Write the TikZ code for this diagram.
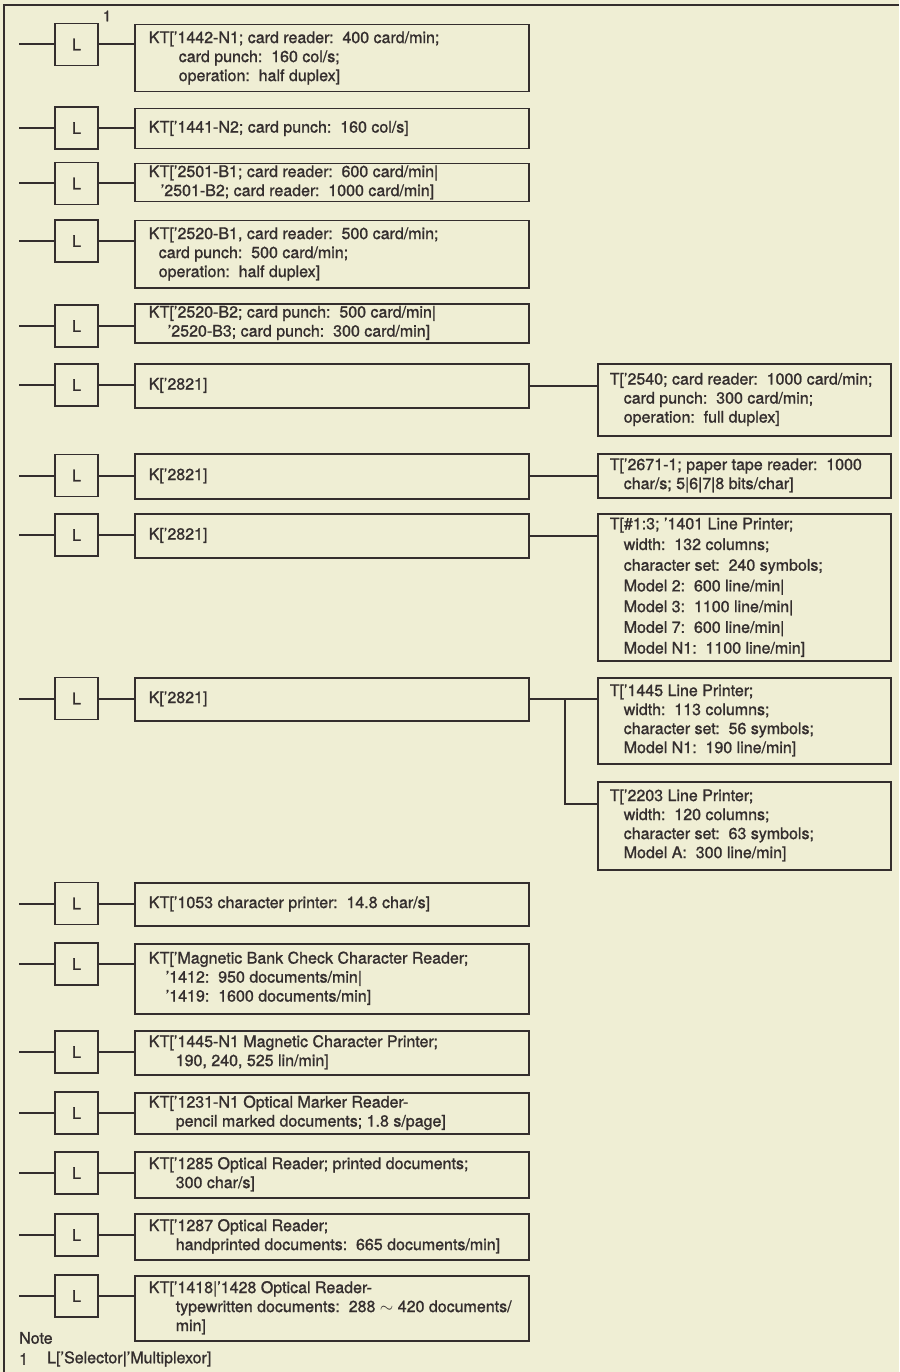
\documentclass[tikz,border=0pt]{standalone}
\usepackage{fontspec}
\setmainfont{TeX Gyre Heros}[FakeBold=1.2]
\usetikzlibrary{calc}
\definecolor{paper}{RGB}{239,238,212}
\definecolor{ink}{RGB}{52,46,46}
\newcommand\bx[2]{\makebox[#1][l]{\begin{tabular}{@{}l@{}}#2\end{tabular}}}
\newcommand\kt[1]{\bx{366pt}{#1}}
\newcommand\tx[1]{\bx{269pt}{#1}}
\newcommand\ind[1]{\hspace*{#1pt}}
\begin{document}
\begin{tikzpicture}[x=1pt,y=-1pt,
  every node/.style={text=ink, font=\fontsize{16}{19}\selectfont},
  lbox/.style={draw=ink, line width=1.5pt, minimum width=43pt, minimum height=42pt, inner sep=0pt},
  kbox/.style={draw=ink, line width=1.5pt, anchor=north west, inner xsep=14pt, inner ysep=0pt, minimum height=#1},
  tbox/.style={draw=ink, line width=1.5pt, anchor=north west, inner xsep=12pt, inner ysep=0pt, minimum height=#1},
  plain/.style={inner sep=0pt, anchor=west},
  conn/.style={draw=ink, line width=2pt}]
\fill[paper] (0,0) rectangle (899,1372);
\useasboundingbox (0,0) rectangle (899,1372);
\draw[line width=1.8pt, ink] (899,5) -- (4,5) -- (4,1372);

% L boxes
\node[lbox] (L1) at (76.5,44.5) {L};
\node[lbox] (L2) at (76.5,128) {L};
\node[lbox] (L3) at (76.5,183.5) {L};
\node[lbox] (L4) at (76.5,241) {L};
\node[lbox] (L5) at (76.5,326) {L};
\node[lbox] (L6) at (76.5,385) {L};
\node[lbox] (L7) at (76.5,475.5) {L};
\node[lbox] (L8) at (76.5,535) {L};
\node[lbox] (L9) at (76.5,698.5) {L};
\node[lbox] (L10) at (76.5,903.5) {L};
\node[lbox] (L11) at (76.5,964) {L};
\node[lbox] (L12) at (76.5,1052) {L};
\node[lbox] (L13) at (76.5,1113) {L};
\node[lbox] (L14) at (76.5,1173) {L};
\node[lbox] (L15) at (76.5,1235) {L};
\node[lbox] (L16) at (76.5,1296) {L};

\node[inner sep=0pt, font=\fontsize{15}{17}\selectfont] (sup1) at (107,16) {1};

% KT / K boxes
\node[kbox=67pt] (B1) at (134,24) {\kt{KT['1442-N1; card reader:\ \ 400 card/min;\\\ind{30}card punch:\ \ 160 col/s;\\\ind{30}operation:\ \ half duplex]}};
\node[kbox=40pt] (B2) at (134,108) {\kt{KT['1441-N2; card punch:\ \ 160 col/s]}};
\node[kbox=38pt] (B3) at (134,163) {\kt{KT['2501-B1; card reader:\ \ 600 card/min|\\\ind{12}'2501-B2; card reader:\ \ 1000 card/min]}};
\node[kbox=67pt] (B4) at (134,220) {\kt{KT['2520-B1, card reader:\ \ 500 card/min;\\\ind{10}card punch:\ \ 500 card/min;\\\ind{10}operation:\ \ half duplex]}};
\node[kbox=39pt] (B5) at (134,303) {\kt{KT['2520-B2; card punch:\ \ 500 card/min|\\\ind{19}'2520-B3; card punch:\ \ 300 card/min]}};
\node[kbox=44pt] (B6) at (134,363) {\kt{K['2821]}};
\node[kbox=45pt] (B7) at (134,453) {\kt{K['2821]}};
\node[kbox=44pt] (B8) at (134,513) {\kt{K['2821]}};
\node[kbox=43pt] (B9) at (134,677) {\kt{K['2821]}};
\node[kbox=43pt] (B10) at (134,882) {\kt{KT['1053 character printer:\ \ 14.8 char/s]}};
\node[kbox=70pt] (B11) at (134,943) {\kt{KT['Magnetic Bank Check Character Reader;\\\ind{17}'1412:\ \ 950 documents/min|\\\ind{17}'1419:\ \ 1600 documents/min]}};
\node[kbox=44pt] (B12) at (134,1030) {\kt{KT['1445-N1 Magnetic Character Printer;\\\ind{27}190, 240, 525 lin/min]}};
\node[kbox=41pt] (B13) at (134,1092) {\kt{KT['1231-N1 Optical Marker Reader-\\\ind{27}pencil marked documents; 1.8 s/page]}};
\node[kbox=46pt] (B14) at (134,1151) {\kt{KT['1285 Optical Reader; printed documents;\\\ind{27}300 char/s]}};
\node[kbox=46pt] (B15) at (134,1213) {\kt{KT['1287 Optical Reader;\\\ind{27}handprinted documents:\ \ 665 documents/min]}};
\node[kbox=65pt] (B16) at (134,1275) {\kt{KT['1418|'1428 Optical Reader-\\\ind{27}typewritten documents:\ \ 288 $\sim$ 420 documents/\\\ind{27}min]}};

% T boxes
\node[tbox=72pt] (T6) at (597,363) {\tx{T['2540; card reader:\ \ 1000 card/min;\\\ind{14}card punch:\ \ 300 card/min;\\\ind{14}operation:\ \ full duplex]}};
\node[tbox=44pt] (T7) at (597,453) {\tx{T['2671-1; paper tape reader:\ \ 1000\\\ind{14}char/s; 5|6|7|8 bits/char]}};
\node[tbox=147pt] (T8) at (597,513) {\renewcommand\arraystretch{1.09}\tx{T[\#1:3; '1401 Line Printer;\\\ind{14}width:\ \ 132 columns;\\\ind{14}character set:\ \ 240 symbols;\\\ind{14}Model 2:\ \ 600 line/min|\\\ind{14}Model 3:\ \ 1100 line/min|\\\ind{14}Model 7:\ \ 600 line/min|\\\ind{14}Model N1:\ \ 1100 line/min]}};
\node[tbox=86pt] (T9a) at (597,677) {\tx{T['1445 Line Printer;\\\ind{14}width:\ \ 113 columns;\\\ind{14}character set:\ \ 56 symbols;\\\ind{14}Model N1:\ \ 190 line/min]}};
\node[tbox=88pt] (T9b) at (597,781) {\tx{T['2203 Line Printer;\\\ind{14}width:\ \ 120 columns;\\\ind{14}character set:\ \ 63 symbols;\\\ind{14}Model A:\ \ 300 line/min]}};

% connectors
\foreach \i in {1,...,16} {
  \coordinate (f\i) at ([xshift=-35pt]L\i.west);
  \draw[conn] (f\i) -- (L\i.west);
  \draw[conn] (L\i.east) -- (L\i.east -| B\i.west);
}
\draw[conn] (B6.east) -- (B6.east -| T6.west);
\draw[conn] (B7.east) -- (B7.east -| T7.west);
\draw[conn] (B8.east) -- (B8.east -| T8.west);
\draw[conn] (B9.east) -- (B9.east -| T9a.west);
\coordinate (j9) at ([xshift=35pt]B9.east);
\coordinate (k9) at ($(j9 |- T9b.north)+(0,23)$);
\draw[conn] (j9) -- (k9) -- (k9 -| T9b.west);

% note
\node[plain] (note) at (19,1338) {Note};
\node[plain] (n1) at (19,1359) {1};
\node[plain] (n1t) at (47,1359) {L['Selector|'Multiplexor]};
\end{tikzpicture}
\end{document}
